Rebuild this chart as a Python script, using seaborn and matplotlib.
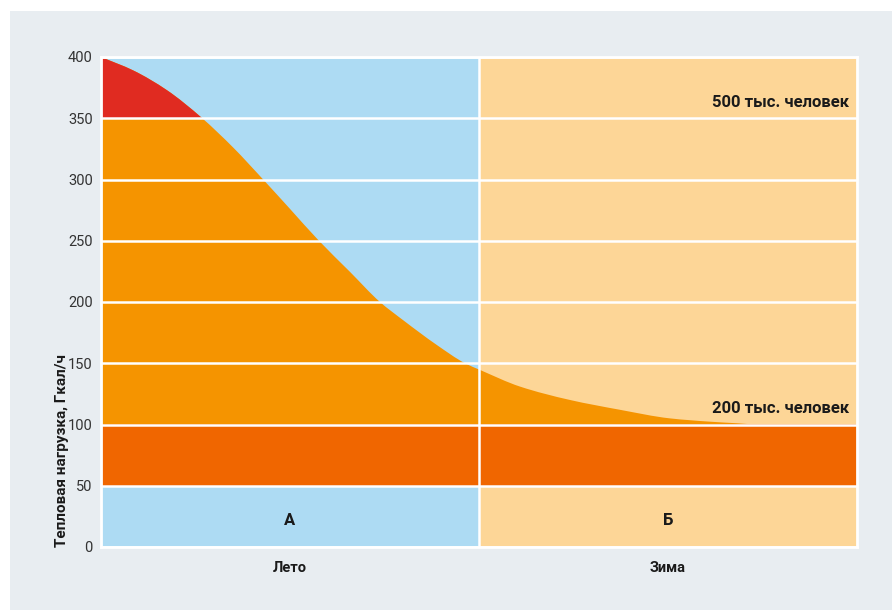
import matplotlib
matplotlib.use("Agg")
import matplotlib.pyplot as plt
from matplotlib.patches import Rectangle, PathPatch
from matplotlib.path import Path
import numpy as np
import seaborn as sns

# Seasons on the x axis and the heat-load curve (Gcal/h)
seasons = ["Лето", "Зима"]
zone_labels = ["А", "Б"]
curve_x = [0.0, 0.0855, 0.174, 0.266, 0.350, 0.429, 0.5, 0.575, 0.659,
           0.738, 0.80, 0.888, 0.963, 1.003, 1.108, 1.241, 1.373, 1.505,
           1.611, 1.683, 1.743, 1.85, 2.0]
curve_y = [400, 389, 373, 350.5, 326, 300, 276, 250.5, 224.5,
           200, 185, 165, 150, 144.5, 131, 120, 112, 105,
           102.3, 101, 100, 100, 100]
base_band = [50, 100]
red_cut = 350
group_labels = ["500 тыс. человек", "200 тыс. человек"]
group_levels = [363, 113]
y_ticks = [0, 50, 100, 150, 200, 250, 300, 350, 400]

BLUE = "#addbf3"
PEACH = "#fdd697"
ORANGE = "#f59400"
DARK_ORANGE = "#f06600"
RED = "#e02b21"
BG = "#e8edf1"
TEXT = "#1a1a1a"


def smooth_area_path(x, y, base):
    """Closed path: monotone cubic (Fritsch-Carlson) through the points, down to base."""
    x = np.asarray(x, float)
    y = np.asarray(y, float)
    h = np.diff(x)
    d = np.diff(y) / h
    m = np.zeros_like(y)
    m[0], m[-1] = d[0], d[-1]
    for i in range(1, len(y) - 1):
        if d[i - 1] * d[i] <= 0:
            m[i] = 0.0
        else:
            w1 = 2 * h[i] + h[i - 1]
            w2 = h[i] + 2 * h[i - 1]
            m[i] = (w1 + w2) / (w1 / d[i - 1] + w2 / d[i])
    verts = [(x[0], base), (x[0], y[0])]
    codes = [Path.MOVETO, Path.LINETO]
    for i in range(len(x) - 1):
        c1 = (x[i] + h[i] / 3, y[i] + m[i] * h[i] / 3)
        c2 = (x[i + 1] - h[i] / 3, y[i + 1] - m[i + 1] * h[i] / 3)
        verts += [c1, c2, (x[i + 1], y[i + 1])]
        codes += [Path.CURVE4] * 3
    verts += [(x[-1], base), (x[0], base)]
    codes += [Path.LINETO, Path.CLOSEPOLY]
    return Path(verts, codes)


sns.set_theme(style="white")
plt.rcParams["font.family"] = ["Roboto", "DejaVu Sans"]

fig = plt.figure(figsize=(8.92, 6.10), dpi=100)
fig.patches.append(Rectangle((10 / 892, 0), 1, 1 - 11 / 610, transform=fig.transFigure,
                             facecolor=BG, edgecolor="none", zorder=-10))
ax = fig.add_axes([101 / 892, 1 - 547 / 610, 756 / 892, 490 / 610])

# Season backgrounds
ax.axvspan(0, 1, color=BLUE, zorder=0, lw=0)
ax.axvspan(1, 2, color=PEACH, zorder=0, lw=0)

# Load under the curve, red above the 350 level
area = smooth_area_path(curve_x, curve_y, base_band[1])
ax.add_patch(PathPatch(area, facecolor=ORANGE, edgecolor="none", zorder=1))
red = PathPatch(area, facecolor=RED, edgecolor="none", zorder=2)
ax.add_patch(red)
red.set_clip_path(Rectangle((0, red_cut), 2, 400 - red_cut, transform=ax.transData))
ax.fill_between([0, 2], base_band[0], base_band[1], color=DARK_ORANGE, lw=0, zorder=2)

# White grid
for t in y_ticks:
    ax.axhline(t, color="white", lw=1.8, zorder=3)
ax.axvline(1, color="white", lw=1.8, zorder=3)

ax.set_xlim(0, 2)
ax.set_ylim(0, 400)
ax.set_yticks(y_ticks)
ax.set_yticklabels([str(t) for t in y_ticks], fontsize=10.5, color="#333333")
ax.set_xticks([0.5, 1.5])
ax.set_xticklabels(seasons, fontsize=10.5, fontweight="bold", color=TEXT)
ax.tick_params(axis="both", length=0)
ax.tick_params(axis="x", pad=10)
ax.tick_params(axis="y", pad=6)
ax.set_xlabel("")
ax.set_ylabel("Тепловая нагрузка, Гкал/ч", fontsize=11, fontweight="bold",
              color=TEXT, loc="bottom", labelpad=-1)
for s in ax.spines.values():
    s.set_color("white")
    s.set_linewidth(2)
    s.set_zorder(4)

for lbl, xpos in zip(zone_labels, [0.5, 1.5]):
    ax.text(xpos, 22, lbl, ha="center", va="center", fontsize=12,
            fontweight="bold", color=TEXT, zorder=5)
for lbl, lvl in zip(group_labels, group_levels):
    ax.text(1.98, lvl, lbl, ha="right", va="center", fontsize=12,
            fontweight="bold", color=TEXT, zorder=5)

fig.savefig("out.png", dpi=100, facecolor="white")
